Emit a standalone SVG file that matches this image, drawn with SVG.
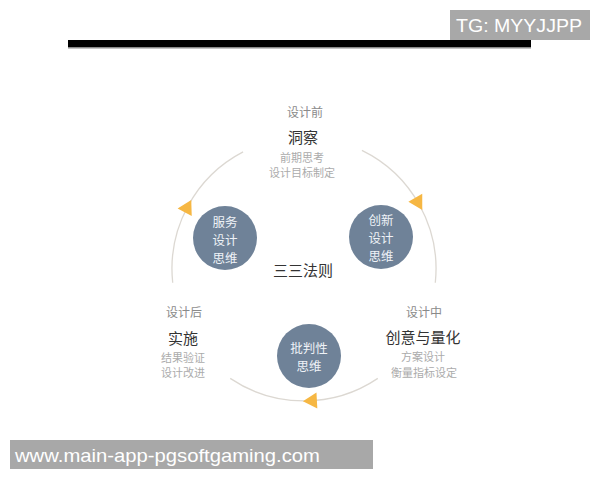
<svg xmlns="http://www.w3.org/2000/svg" width="600" height="480" viewBox="0 0 600 480">
<style>
text{font-family:"Noto Sans CJK SC","Noto Sans",sans-serif;text-anchor:middle}
.stage{font-size:12px;fill:#8a8a8a}
.title{font-size:15px;fill:#333}
.sub{font-size:11px;fill:#ababab}
.node circle{fill:#6f8298}
.node text{font-size:12.5px;fill:#eef2f7}
.arc{fill:none;stroke:#dcd8d2;stroke-width:1.3}
.wm{font-family:"Liberation Sans","DejaVu Sans",sans-serif;fill:#fff;text-anchor:start}
</style>
<defs>
<polygon id="arrow" points="8,0 -6,-8 -6,8" fill="#f6b743"/>
</defs>
<rect width="600" height="480" fill="#fff"/>
<rect x="450" y="10" width="140" height="30" fill="#a8a8a8"/>
<text class="wm" x="456" y="32" font-size="18" textLength="126" lengthAdjust="spacingAndGlyphs">TG: MYYJJPP</text>
<rect x="68" y="40" width="463" height="7" fill="#000"/>
<rect x="68" y="47" width="463" height="1.5" fill="#8a8a8a"/>
<g id="connectors">
<path class="arc" d="M172.7,282.8 A132,132 0 0 1 243.1,151.9"/>
<path class="arc" d="M361.9,150.4 A132,132 0 0 1 435.3,282.8"/>
<path class="arc" d="M377.8,378.4 A132,132 0 0 1 230.2,378.4"/>
<use href="#arrow" transform="translate(187.5,207) rotate(298)"/>
<use href="#arrow" transform="translate(418.3,203) rotate(60)"/>
<use href="#arrow" transform="translate(310.9,400.8) rotate(177)"/>
</g>
<g id="stage-before">
<text class="stage" x="305" y="116.6">设计前</text>
<text class="title" x="303" y="142.7">洞察</text>
<text class="sub" x="302" y="162">前期思考</text>
<text class="sub" x="302" y="177">设计目标制定</text>
</g>
<g id="stage-after">
<text class="stage" x="184" y="316.5">设计后</text>
<text class="title" x="183" y="343.7">实施</text>
<text class="sub" x="183" y="362">结果验证</text>
<text class="sub" x="183" y="376.5">设计改进</text>
</g>
<g id="stage-during">
<text class="stage" x="424" y="316.5">设计中</text>
<text class="title" x="423" y="343.3" font-size="14.5">创意与量化</text>
<text class="sub" x="423" y="361">方案设计</text>
<text class="sub" x="424" y="377">衡量指标设定</text>
</g>
<g id="center-label">
<text x="303" y="275.7" font-size="15" fill="#333">三三法则</text>
</g>
<g id="node-service" class="node">
<circle cx="225" cy="238" r="32"/>
<text x="225" y="226.5">服务</text>
<text x="225" y="244.5">设计</text>
<text x="225" y="262.5">思维</text>
</g>
<g id="node-innovation" class="node">
<circle cx="381" cy="237" r="32"/>
<text x="381" y="224.5">创新</text>
<text x="381" y="242.5">设计</text>
<text x="381" y="260.5">思维</text>
</g>
<g id="node-critical" class="node">
<circle cx="309" cy="356" r="32"/>
<text x="309" y="352.5">批判性</text>
<text x="309" y="370.5">思维</text>
</g>
<rect x="10" y="440" width="363" height="29" fill="#a8a8a8"/>
<text class="wm" x="15" y="461.5" font-size="19" textLength="305" lengthAdjust="spacingAndGlyphs">www.main-app-pgsoftgaming.com</text>
</svg>
